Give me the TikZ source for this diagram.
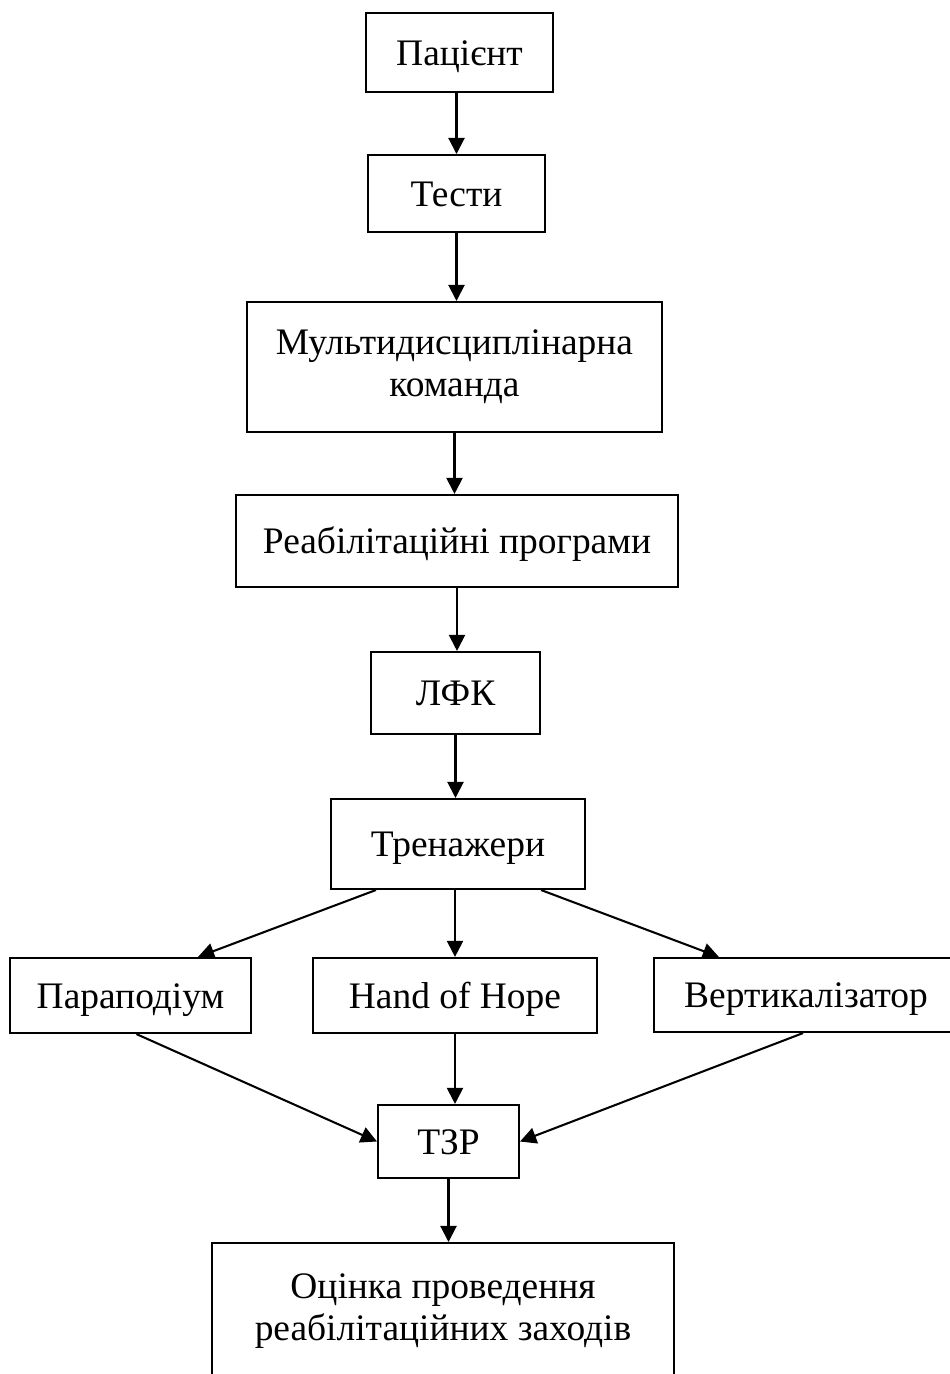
\documentclass[tikz,border=0pt]{standalone}
\usepackage{fontspec}
\setmainfont{Liberation Serif}
\usetikzlibrary{arrows.meta,calc}

\begin{document}
\begin{tikzpicture}[x=0.39pt, y=-0.39pt,
    font=\fontsize{14.6}{16.5}\selectfont,
    box/.style={draw=black, line width=0.8pt, align=center, inner sep=0pt},
    one/.style={box, text height=12pt, text depth=2.2pt},
    ar/.style={-{Triangle[length=6.3pt,width=6.3pt]}, line width=0.8pt}]
    \useasboundingbox (0,0) rectangle (949,1374);
    % main column
    \node[one, minimum width=72.9pt, minimum height=30.8pt]  (pac)  at (459.5,52.5)  {Пацієнт};
    \node[one, minimum width=69pt, minimum height=30pt]      (test) at (456.5,193.5) {Тести};
    \node[box, minimum width=161.9pt, minimum height=50.7pt] (team) at (454.5,367)   {Мультидисциплінарна\\команда};
    \node[one, minimum width=172.4pt, minimum height=35.9pt] (prog) at (457,541)     {Реабілітаційні програми};
    \node[one, minimum width=65.9pt, minimum height=32pt]    (lfk)  at (455.5,693)   {ЛФК};
    \node[one, minimum width=99.1pt, minimum height=35.1pt]  (trn)  at (458,844)     {Тренажери};
    % devices
    \node[one, minimum width=94pt, minimum height=29.3pt]    (para) at (130.5,995.5) {Параподіум};
    \node[one, minimum width=110.8pt, minimum height=29.3pt] (hoh)  at (455,995.5)   {Hand of Hope};
    \node[one, minimum width=118.6pt, minimum height=28.9pt] (vert) at (806,995)     {Вертикалізатор};
    \node[one, minimum width=55pt, minimum height=28.5pt]    (tzr)  at (448.5,1141.5) {ТЗР};
    \node[box, minimum width=180.2pt, inner ysep=12pt, anchor=north] (eval) at (443,1242)
        {Оцінка проведення\\реабілітаційних заходів\\[20pt]\mbox{}};
    % arrows
    \draw[ar] (test.north |- pac.south) -- (test.north);
    \draw[ar] (test.south) -- (test.south |- team.north);
    \draw[ar] (team.south) -- (team.south |- prog.north);
    \draw[ar] (prog.south) -- (prog.south |- lfk.north);
    \draw[ar] (lfk.south) -- (lfk.south |- trn.north);
    \draw[ar] (hoh.north |- trn.south) -- (hoh.north);
    \draw[ar] ($(trn.south west)+(46,0)$) -- ($(para.north east)+(-54,0)$);
    \draw[ar] ($(trn.south east)+(-45,0)$) -- ($(vert.north west)+(66,0)$);
    \draw[ar] (hoh.south) -- (hoh.south |- tzr.north);
    \draw[ar] ($(para.south)+(6,0)$) -- (tzr.west);
    \draw[ar] ($(vert.south)+(-3,0)$) -- (tzr.east);
    \draw[ar] (tzr.south) -- (tzr.south |- eval.north);
\end{tikzpicture}
\end{document}
